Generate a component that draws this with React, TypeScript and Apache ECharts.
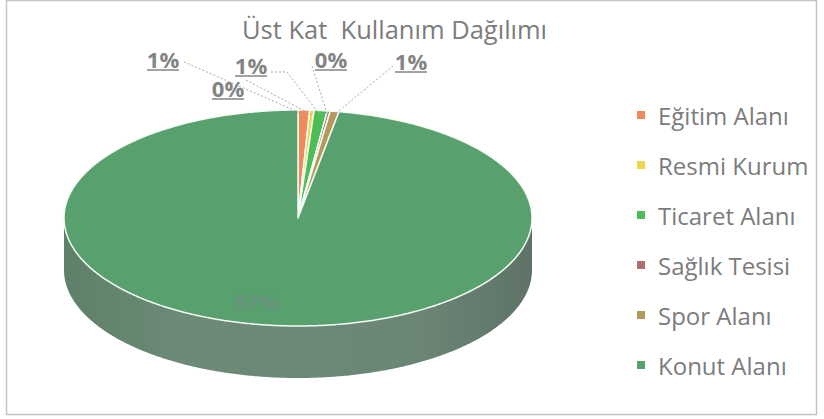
import React, { useEffect, useRef } from "react";
import * as echarts from "echarts";

// ---- data ----
const categories = ["Eğitim Alanı", "Resmi Kurum", "Ticaret Alanı", "Sağlık Tesisi", "Spor Alanı", "Konut Alanı"];
const shares = [0.8, 0.3, 0.9, 0.2, 0.6, 97.2];
const sliceColors = ["#ee8b5d", "#f2d54c", "#4dbd58", "#b36a6d", "#b39a5c", "#58a06e"];
const titleText = "Üst Kat  Kullanım Dağılımı";

// ---- layout (not data) ----
const PIE = { cx: 298, cy: 218, rx: 234, ry: 108, depth: 52 };
// label text centre and leader-line start points (leader ends on the slice)
const LABEL_LAYOUT: { tx: number; ty: number; path: number[][] | null }[] = [
  { tx: 163, ty: 59, path: [[184, 62]] },
  { tx: 228, ty: 88, path: [[246, 80]] },
  { tx: 251, ty: 65, path: [[271, 72], [287, 72]] },
  { tx: 331, ty: 59, path: [[312, 66]] },
  { tx: 411, ty: 61, path: [[393, 66]] },
  { tx: 256, ty: 301, path: null },
];

const FONT = '"Open Sans", "Noto Sans", sans-serif';
const TEXT_GRAY = "#7c7c7c";
const total = shares.reduce((a, b) => a + b, 0);
const pctText = (v: number) => Math.round((v / total) * 100) + "%";

function pt(t: number, s: number, dy = 0): number[] {
  const a = t * Math.PI * 2;
  return [PIE.cx + PIE.rx * s * Math.sin(a), PIE.cy - PIE.ry * s * Math.cos(a) + dy];
}
function arc(t0: number, t1: number, dy = 0): number[][] {
  const n = Math.max(2, Math.ceil((t1 - t0) * 720));
  const out: number[][] = [];
  for (let k = 0; k <= n; k++) out.push(pt(t0 + ((t1 - t0) * k) / n, 1, dy));
  return out;
}

function renderItem(params: any, api: any) {
  const i = params.dataIndex;
  const v = api.value(0);
  let before = 0;
  for (let k = 0; k < i; k++) before += shares[k];
  const t0 = before / total;
  const t1 = (before + v) / total;
  const children: any[] = [];

  // side (front half only)
  const a = Math.max(t0, 0.25);
  const b = Math.min(t1, 0.75);
  if (b > a) {
    const top = arc(a, b);
    const bottom = arc(a, b, PIE.depth).reverse();
    children.push({
      type: "polygon",
      shape: { points: top.concat(bottom) },
      style: {
        fill: new echarts.graphic.LinearGradient(0, 0, 1, 0, [
          { offset: 0, color: "#5f8068" },
          { offset: 0.25, color: "#6c8a76" },
          { offset: 0.75, color: "#6c8676" },
          { offset: 1, color: "#5e7366" },
        ]),
        stroke: "none",
      },
      z2: 1,
    });
  }

  // top face
  children.push({
    type: "polygon",
    shape: { points: [[PIE.cx, PIE.cy]].concat(arc(t0, t1)) },
    style: { fill: sliceColors[i], stroke: "#f4fbf4", lineWidth: 1.5, lineJoin: "round" },
    z2: 10,
  });

  // label
  const L = LABEL_LAYOUT[i];
  const txt = pctText(v);
  if (L.path) {
    const end = pt((t0 + t1) / 2, 0.96);
    children.push({
      type: "polyline",
      shape: { points: L.path.concat([end]) },
      style: { stroke: "#a9a9a9", lineWidth: 1, lineDash: [2, 2], fill: null },
      z2: 20,
    });
    children.push({
      type: "text",
      x: L.tx,
      y: L.ty,
      style: {
        text: txt,
        fill: "#848484",
        font: `bold 22px ${FONT}`,
        align: "center",
        verticalAlign: "middle",
      },
      z2: 21,
    });
    children.push({
      type: "line",
      shape: { x1: L.tx - 16, y1: L.ty + 11, x2: L.tx + 16, y2: L.ty + 11 },
      style: { stroke: "#848484", lineWidth: 1.5 },
      z2: 21,
    });
  } else {
    children.push({
      type: "text",
      x: L.tx,
      y: L.ty,
      style: {
        text: txt,
        fill: "rgba(140,120,160,0.35)",
        font: `bold 22px ${FONT}`,
        align: "center",
        verticalAlign: "middle",
      },
      z2: 21,
    });
  }
  return { type: "group", children };
}

export default function App() {
  const ref = useRef<HTMLDivElement>(null);
  useEffect(() => {
    document.body.style.margin = "0";
    const chart = echarts.init(ref.current!, null, { renderer: "svg" });
    chart.setOption({
      animation: false,
      backgroundColor: "#ffffff",
      title: {
        text: titleText,
        left: 237,
        top: 11,
        textStyle: { fontFamily: FONT, fontSize: 25.5, fontWeight: "normal", color: TEXT_GRAY },
      },
      legend: {
        orient: "vertical",
        left: 637,
        top: 102,
        padding: 0,
        itemGap: 24,
        itemWidth: 8,
        itemHeight: 8,
        icon: "rect",
        selectedMode: false,
        data: categories,
        textStyle: { fontFamily: FONT, fontSize: 24, lineHeight: 26, color: TEXT_GRAY, padding: [0, 0, 0, 8] },
      },
      graphic: [
        {
          type: "rect",
          shape: { x: 6.5, y: 0.5, width: 810, height: 414 },
          style: { fill: "none", stroke: "#c4c4c4", lineWidth: 1.5 },
          silent: true,
        },
      ],
      series: [
        {
          type: "pie",
          name: "legend",
          radius: 1,
          center: [-50, -50],
          silent: true,
          label: { show: false },
          labelLine: { show: false },
          data: categories.map((c, i) => ({ name: c, value: shares[i], itemStyle: { color: sliceColors[i] } })),
        },
        {
          type: "custom",
          coordinateSystem: "none",
          silent: true,
          renderItem,
          data: shares.map((v, i) => ({ name: categories[i], value: [v] })),
        },
      ],
    });
    return () => chart.dispose();
  }, []);
  return <div ref={ref} style={{ width: 824, height: 419 }} />;
}
